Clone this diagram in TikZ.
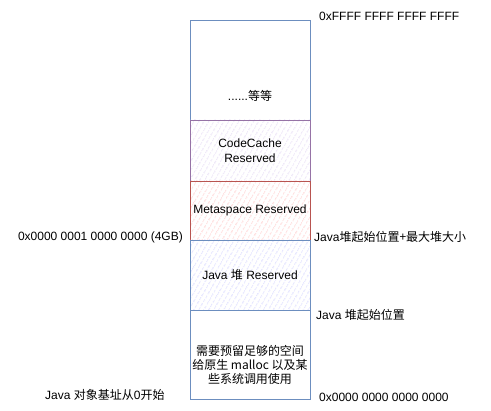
\documentclass[tikz,border=0pt]{standalone}
\usepackage{fontspec}
\setmainfont{Liberation Sans}
\newfontfamily\cjk{Noto Sans CJK SC}
\usetikzlibrary{patterns.meta}
\newcommand{\zh}[1]{{\cjk #1}}

\definecolor{bluebd}{HTML}{6C8EBF}
\definecolor{purplebd}{HTML}{9673A6}
\definecolor{redbd}{HTML}{B85450}

\tikzset{
  region/.style={draw=bluebd, line width=0.8pt, minimum width=120pt, inner sep=0pt, font=\fontsize{12}{15}\selectfont, align=center},
  hatched/.style={pattern={Lines[angle=60,distance=4pt,line width=0.5pt]}, pattern color=#1},
  addr/.style={font=\fontsize{12}{15}\selectfont, inner sep=0pt}
}

\begin{document}
\begin{tikzpicture}[x=1pt,y=-1pt]
\useasboundingbox (0,0) rectangle (491,411);

\node[region, minimum height=100pt] (Rest) at (250,70) {};
\node[region, draw=purplebd, hatched=red!30!blue!25, minimum height=61pt] (CodeCache) at (250,150.5) {CodeCache\\Reserved};
\node[region, draw=redbd, hatched=red!35, minimum height=59pt] (Metaspace) at (250,210.5) {Metaspace Reserved};
\node[region, hatched=blue!28, minimum height=70pt] (Heap) at (250,275) {Java \zh{堆} Reserved};
\node[region, minimum height=89pt] (Native) at (250,354.5) {};

\node[addr] (RestText) at (250,96) {......\zh{等等}};
\node[addr, align=center, font=\fontsize{12}{14}\cjk] (NativeText) at (250,365) {需要预留足够的空间\\给原生 malloc 以及某\\些系统调用使用};

\node[addr, anchor=west] (TopAddr) at (319,16) {0xFFFF FFFF FFFF FFFF};
\node[addr, anchor=east] (FourGB) at (183,237) {0x0000 0001 0000 0000 (4GB)};
\node[addr, anchor=west] (HeapEnd) at (314,237) {Java\zh{堆起始位置+最大堆大小}};
\node[addr, anchor=west] (HeapStart) at (316,315) {Java \zh{堆起始位置}};
\node[addr, anchor=west] (BaseText) at (45,395) {Java \zh{对象基址从}0\zh{开始}};
\node[addr, anchor=west] (ZeroAddr) at (319,397) {0x0000 0000 0000 0000};

\end{tikzpicture}
\end{document}
